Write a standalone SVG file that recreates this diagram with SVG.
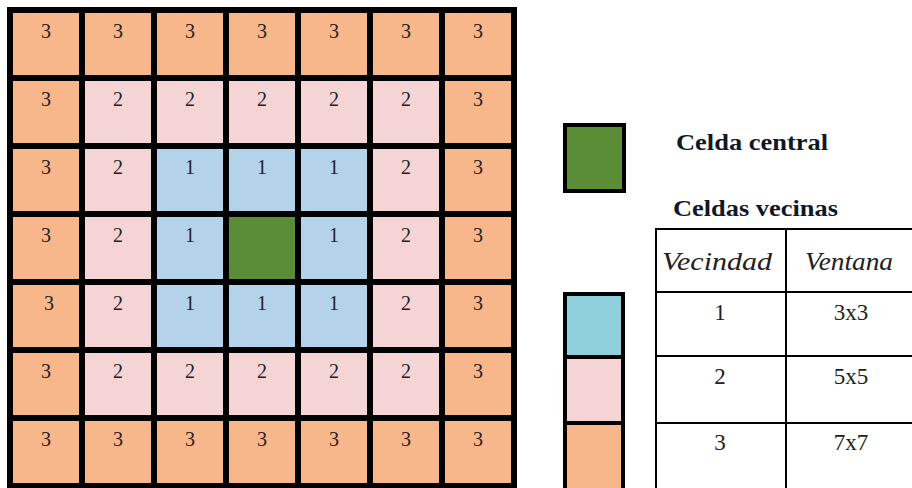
<svg xmlns="http://www.w3.org/2000/svg" width="912" height="488" viewBox="0 0 912 488">
<style>
.c{stroke:#000;stroke-width:6}
.o{fill:#F8B68B}
.p{fill:#F4D4D4}
.b{fill:#B4D3EA}
.g{fill:#5B8C36}
.n{font-family:"Liberation Serif",serif;font-size:20px;fill:#222;text-anchor:middle}
.lg{stroke:#000;stroke-width:4}
.h{font-family:"Liberation Serif",serif;font-weight:bold;font-size:24px;fill:#101828}
.t{font-family:"Liberation Serif",serif;font-size:23px;fill:#222;text-anchor:middle}
.ti{font-family:"Liberation Serif",serif;font-style:italic;font-size:26px;fill:#222}
.tl{stroke:#000;stroke-width:2;fill:none}
</style>
<rect width="912" height="488" fill="#fff"/>
<g id="grid">
<g id="cell-0-0"><rect class="c o" x="10" y="10" width="72" height="68"/><text class="n" x="46" y="38">3</text></g>
<g id="cell-0-1"><rect class="c o" x="82" y="10" width="72" height="68"/><text class="n" x="118" y="38">3</text></g>
<g id="cell-0-2"><rect class="c o" x="154" y="10" width="72" height="68"/><text class="n" x="190" y="38">3</text></g>
<g id="cell-0-3"><rect class="c o" x="226" y="10" width="72" height="68"/><text class="n" x="262" y="38">3</text></g>
<g id="cell-0-4"><rect class="c o" x="298" y="10" width="72" height="68"/><text class="n" x="334" y="38">3</text></g>
<g id="cell-0-5"><rect class="c o" x="370" y="10" width="72" height="68"/><text class="n" x="406" y="38">3</text></g>
<g id="cell-0-6"><rect class="c o" x="442" y="10" width="72" height="68"/><text class="n" x="478" y="38">3</text></g>

<g id="cell-1-0"><rect class="c o" x="10" y="78" width="72" height="68"/><text class="n" x="46" y="106">3</text></g>
<g id="cell-1-1"><rect class="c p" x="82" y="78" width="72" height="68"/><text class="n" x="118" y="106">2</text></g>
<g id="cell-1-2"><rect class="c p" x="154" y="78" width="72" height="68"/><text class="n" x="190" y="106">2</text></g>
<g id="cell-1-3"><rect class="c p" x="226" y="78" width="72" height="68"/><text class="n" x="262" y="106">2</text></g>
<g id="cell-1-4"><rect class="c p" x="298" y="78" width="72" height="68"/><text class="n" x="334" y="106">2</text></g>
<g id="cell-1-5"><rect class="c p" x="370" y="78" width="72" height="68"/><text class="n" x="406" y="106">2</text></g>
<g id="cell-1-6"><rect class="c o" x="442" y="78" width="72" height="68"/><text class="n" x="478" y="106">3</text></g>

<g id="cell-2-0"><rect class="c o" x="10" y="146" width="72" height="68"/><text class="n" x="46" y="174">3</text></g>
<g id="cell-2-1"><rect class="c p" x="82" y="146" width="72" height="68"/><text class="n" x="118" y="174">2</text></g>
<g id="cell-2-2"><rect class="c b" x="154" y="146" width="72" height="68"/><text class="n" x="190" y="174">1</text></g>
<g id="cell-2-3"><rect class="c b" x="226" y="146" width="72" height="68"/><text class="n" x="262" y="174">1</text></g>
<g id="cell-2-4"><rect class="c b" x="298" y="146" width="72" height="68"/><text class="n" x="334" y="174">1</text></g>
<g id="cell-2-5"><rect class="c p" x="370" y="146" width="72" height="68"/><text class="n" x="406" y="174">2</text></g>
<g id="cell-2-6"><rect class="c o" x="442" y="146" width="72" height="68"/><text class="n" x="478" y="174">3</text></g>

<g id="cell-3-0"><rect class="c o" x="10" y="214" width="72" height="68"/><text class="n" x="46" y="242">3</text></g>
<g id="cell-3-1"><rect class="c p" x="82" y="214" width="72" height="68"/><text class="n" x="118" y="242">2</text></g>
<g id="cell-3-2"><rect class="c b" x="154" y="214" width="72" height="68"/><text class="n" x="190" y="242">1</text></g>
<g id="cell-3-3"><rect class="c g" x="226" y="214" width="72" height="68"/></g>
<g id="cell-3-4"><rect class="c b" x="298" y="214" width="72" height="68"/><text class="n" x="334" y="242">1</text></g>
<g id="cell-3-5"><rect class="c p" x="370" y="214" width="72" height="68"/><text class="n" x="406" y="242">2</text></g>
<g id="cell-3-6"><rect class="c o" x="442" y="214" width="72" height="68"/><text class="n" x="478" y="242">3</text></g>

<g id="cell-4-0"><rect class="c o" x="10" y="282" width="72" height="68"/><text class="n" x="49" y="310">3</text></g>
<g id="cell-4-1"><rect class="c p" x="82" y="282" width="72" height="68"/><text class="n" x="118" y="310">2</text></g>
<g id="cell-4-2"><rect class="c b" x="154" y="282" width="72" height="68"/><text class="n" x="190" y="310">1</text></g>
<g id="cell-4-3"><rect class="c b" x="226" y="282" width="72" height="68"/><text class="n" x="262" y="310">1</text></g>
<g id="cell-4-4"><rect class="c b" x="298" y="282" width="72" height="68"/><text class="n" x="334" y="310">1</text></g>
<g id="cell-4-5"><rect class="c p" x="370" y="282" width="72" height="68"/><text class="n" x="406" y="310">2</text></g>
<g id="cell-4-6"><rect class="c o" x="442" y="282" width="72" height="68"/><text class="n" x="478" y="310">3</text></g>

<g id="cell-5-0"><rect class="c o" x="10" y="350" width="72" height="68"/><text class="n" x="46" y="378">3</text></g>
<g id="cell-5-1"><rect class="c p" x="82" y="350" width="72" height="68"/><text class="n" x="118" y="378">2</text></g>
<g id="cell-5-2"><rect class="c p" x="154" y="350" width="72" height="68"/><text class="n" x="190" y="378">2</text></g>
<g id="cell-5-3"><rect class="c p" x="226" y="350" width="72" height="68"/><text class="n" x="262" y="378">2</text></g>
<g id="cell-5-4"><rect class="c p" x="298" y="350" width="72" height="68"/><text class="n" x="334" y="378">2</text></g>
<g id="cell-5-5"><rect class="c p" x="370" y="350" width="72" height="68"/><text class="n" x="406" y="378">2</text></g>
<g id="cell-5-6"><rect class="c o" x="442" y="350" width="72" height="68"/><text class="n" x="478" y="378">3</text></g>

<g id="cell-6-0"><rect class="c o" x="10" y="418" width="72" height="68"/><text class="n" x="46" y="446">3</text></g>
<g id="cell-6-1"><rect class="c o" x="82" y="418" width="72" height="68"/><text class="n" x="118" y="446">3</text></g>
<g id="cell-6-2"><rect class="c o" x="154" y="418" width="72" height="68"/><text class="n" x="190" y="446">3</text></g>
<g id="cell-6-3"><rect class="c o" x="226" y="418" width="72" height="68"/><text class="n" x="262" y="446">3</text></g>
<g id="cell-6-4"><rect class="c o" x="298" y="418" width="72" height="68"/><text class="n" x="334" y="446">3</text></g>
<g id="cell-6-5"><rect class="c o" x="370" y="418" width="72" height="68"/><text class="n" x="406" y="446">3</text></g>
<g id="cell-6-6"><rect class="c o" x="442" y="418" width="72" height="68"/><text class="n" x="478" y="446">3</text></g>
</g>

<g id="legend-central">
<rect class="lg g" x="565" y="125" width="59" height="66"/>
<text class="h" x="676" y="150" textLength="152" lengthAdjust="spacingAndGlyphs">Celda central</text>
</g>

<g id="legend-neighbours">
<rect class="lg" fill="#8FCFDB" x="565" y="294" width="58" height="63"/>
<rect class="lg p" x="565" y="357" width="58" height="66"/>
<rect class="lg o" x="565" y="423" width="58" height="70"/>
</g>

<g id="table">
<text class="h" x="673" y="216" textLength="165" lengthAdjust="spacingAndGlyphs">Celdas vecinas</text>
<rect class="tl" x="656" y="229" width="270" height="270"/>
<line class="tl" x1="786" y1="229" x2="786" y2="490"/>
<line class="tl" x1="656" y1="292" x2="912" y2="292"/>
<line class="tl" x1="656" y1="356" x2="912" y2="356"/>
<line class="tl" x1="656" y1="423" x2="912" y2="423"/>
<text class="ti" x="662" y="270" textLength="110" lengthAdjust="spacingAndGlyphs">Vecindad</text>
<text class="ti" x="805" y="270" textLength="88" lengthAdjust="spacingAndGlyphs">Ventana</text>
<text class="t" x="720" y="320">1</text>
<text class="t" x="851" y="320">3x3</text>
<text class="t" x="720" y="384">2</text>
<text class="t" x="851" y="384">5x5</text>
<text class="t" x="720" y="450">3</text>
<text class="t" x="851" y="450">7x7</text>
</g>
</svg>
